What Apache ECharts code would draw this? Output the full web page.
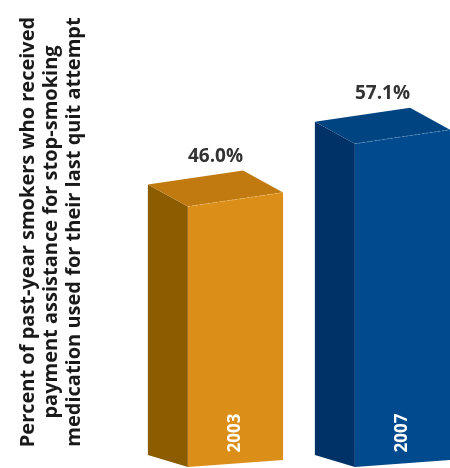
<!DOCTYPE html>
<html>
<head>
<meta charset="utf-8">
<script src="https://cdn.jsdelivr.net/npm/echarts@6/dist/echarts.min.js"></script>
<style>
html,body{margin:0;padding:0;background:#fff;}
#chart{width:450px;height:468px;}
</style>
</head>
<body>
<div id="chart"></div>
<script>
const categories = ['2003', '2007'];
const positions = [0, 1];
const values = [46.0, 57.1];
const valueLabels = ['46.0%', '57.1%'];
const axisTitle = 'Percent of past-year smokers who received\npayment assistance for stop-smoking\nmedication used for their last quit attempt';

const palettes = [
  {front: '#DB8E18', side: '#8C5C00', top: '#C07A10', edge: '#F2C77A'},
  {front: '#004A8D', side: '#003268', top: '#004482', edge: '#7FA6D1'}
];

const chart = echarts.init(document.getElementById('chart'), null, {renderer: 'canvas'});

chart.setOption({
  animation: false,
  grid: {left: 0, right: 0, top: 14, bottom: 1},
  xAxis: {type: 'value', min: -1.41, max: 1.2846, show: false},
  yAxis: {type: 'value', min: 0, max: 80, show: false},
  graphic: [{
    type: 'text',
    x: 51, y: 232,
    rotation: Math.PI / 2,
    style: {
      text: axisTitle,
      font: 'bold 20px "Open Sans"',
      fill: '#1a1a1a',
      textAlign: 'center',
      textVerticalAlign: 'middle',
      lineHeight: 23
    }
  }],
  series: [{
    type: 'custom',
    data: categories.map((c, i) => [positions[i], values[i], i]),
    renderItem: function (params, api) {
      const idx = api.value(2);
      const v = api.value(1);
      const pos = api.value(0);
      const top = api.coord([pos, v]);
      const base = api.coord([pos, 0]);
      const unit = api.size([1, 0])[0];
      const w = unit * 0.57;
      const L = top[0] - w / 2, R = top[0] + w / 2;
      const yt = top[1], yb = base[1];
      const dx = 40, dy = 22, st = 14, sb = 7, sbk = 12;
      const p = palettes[idx];
      const FLT = [L, yt], FRT = [R, yt - st], FLB = [L, yb], FRB = [R, yb - sb];
      const BLT = [L - dx, yt - dy], BRT = [R - dx, yt - st - dy], BLB = [L - dx, yb - sbk];
      return {
        type: 'group',
        children: [
          {type: 'polygon', shape: {points: [BLT, FLT, FLB, BLB]}, style: {fill: p.side}},
          {type: 'polygon', shape: {points: [BLT, BRT, FRT, FLT]}, style: {fill: p.top}},
          {type: 'polygon', shape: {points: [FLT, FRT, FRB, FLB]}, style: {fill: p.front}},
          {type: 'line', shape: {x1: FLT[0], y1: FLT[1], x2: FRT[0], y2: FRT[1]},
            style: {stroke: p.edge, lineWidth: 0.8, lineDash: [2, 2], opacity: 0.7}},
          {type: 'text', x: (L - dx + R) / 2, y: yt - 50,
            style: {text: valueLabels[idx], font: 'bold 19px "Open Sans"', fill: '#333333',
              textAlign: 'center', textVerticalAlign: 'middle'}},
          {type: 'text', x: top[0], y: yb - 34, rotation: Math.PI / 2,
            style: {text: categories[idx], font: 'bold 17px "Open Sans"', fill: '#ffffff',
              textAlign: 'center', textVerticalAlign: 'middle'}}
        ]
      };
    }
  }]
});
</script>
</body>
</html>
